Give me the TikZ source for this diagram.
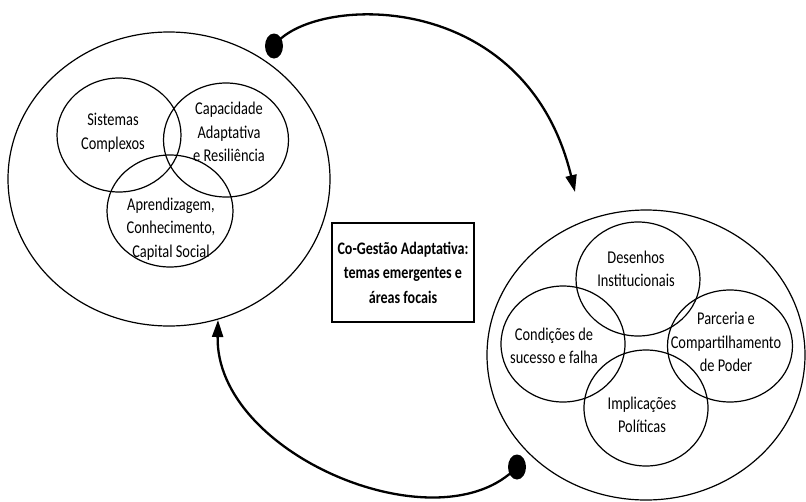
\documentclass[tikz,border=0pt]{standalone}
\usepackage{fontspec}
\setmainfont{Carlito}[FakeStretch=0.8]
\usetikzlibrary{shapes.geometric,arrows.meta}
\begin{document}
\begin{tikzpicture}[x=1pt,y=-1pt,
  ring/.style={draw, ellipse, line width=1.2pt, inner sep=0pt},
  lbl/.style={align=center, font=\fontsize{18}{23.5}\selectfont, inner sep=0pt},
  titlebox/.style={draw, line width=2.3pt, align=center, inner sep=0pt,
    minimum width=142pt, minimum height=99pt,
    font=\fontsize{17.6}{24.5}\selectfont\bfseries},
  dotnode/.style={ellipse, fill=black, inner sep=0pt,
    minimum width=18pt, minimum height=25pt},
  flow/.style={line width=2.3pt, -{Triangle[length=17pt,width=11pt]}}]
\useasboundingbox (0,0) rectangle (806,501);

% left cluster
\node[ring, minimum width=322pt, minimum height=294pt] (leftset) at (169,179) {};
\node[ring, minimum width=124pt, minimum height=114pt] (sis) at (119,135) {};
\node[ring, minimum width=125pt, minimum height=114pt] (cap) at (226,140) {};
\node[ring, minimum width=126pt, minimum height=112pt] (apr) at (170,211) {};
\node[lbl] (sisT) at (113,133) {Sistemas\\Complexos};
\node[lbl] (capT) at (229,132) {Capacidade\\Adaptativa\\e Resiliência};
\node[lbl] (aprT) at (171,229) {Aprendizagem,\\Conhecimento,\\Capital Social};

% central title
\node[titlebox] (title) at (403,272.5) {Co-Gestão Adaptativa:\\temas emergentes e\\áreas focais};

% right cluster
\node[ring, minimum width=318pt, minimum height=290pt] (rightset) at (646,355) {};
\node[ring, minimum width=124pt, minimum height=114pt] (des) at (638,279) {};
\node[ring, minimum width=124pt, minimum height=116pt] (con) at (563,344) {};
\node[ring, minimum width=125pt, minimum height=112pt] (par) at (730,346) {};
\node[ring, minimum width=124pt, minimum height=116pt] (imp) at (646,408) {};
\node[lbl] (desT) at (636,269) {Desenhos\\Institucionais};
\node[lbl] (conT) at (554,346) {Condições de\\sucesso e falha};
\node[lbl] (parT) at (726,342) {Parceria e\\Compartilhamento\\de Poder};
\node[lbl] (impT) at (642,415) {Implicações\\Políticas};

% feedback arrows
\node[dotnode] (dtop) at (274,46) {};
\coordinate (ttip) at (575,192);
\draw[flow] (dtop.center) .. controls (310,-5) and (525,-15) .. (ttip);

\node[dotnode] (dbot) at (517,467) {};
\coordinate (btip) at (218,320);
\draw[flow] (dbot.center) .. controls (440,548) and (215,455) .. (btip);
\end{tikzpicture}
\end{document}
